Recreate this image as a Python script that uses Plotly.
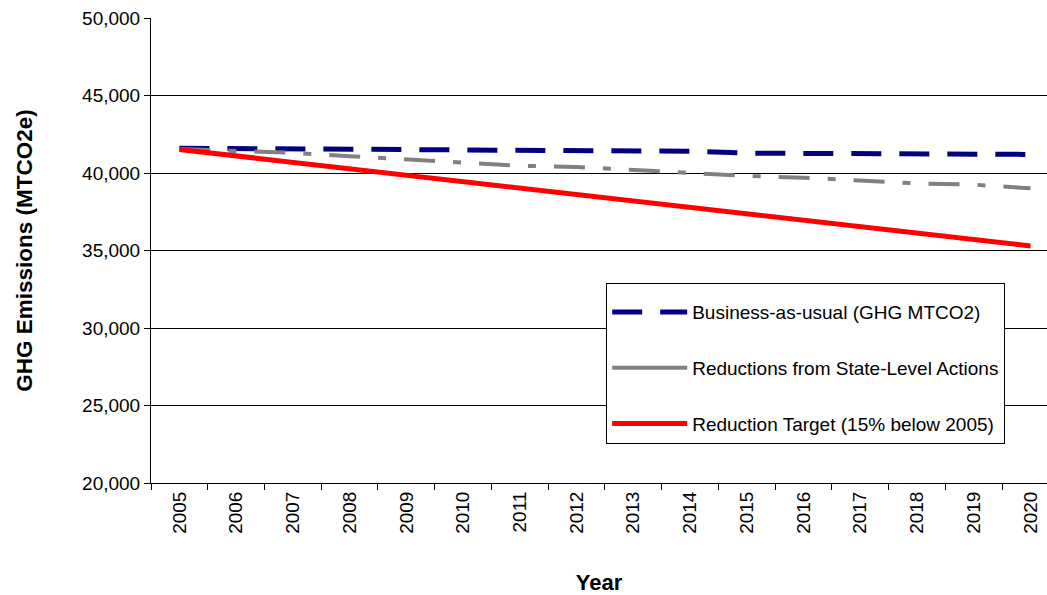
import plotly.graph_objects as go

years = [str(y) for y in range(2005, 2021)]
bau = [41600, 41580, 41550, 41480, 41470, 41470, 41400, 41400, 41400, 41400,
       41280, 41280, 41280, 41260, 41200, 41200]
state = [41550, 41420, 41300, 41080, 40860, 40690, 40470, 40390, 40190, 40040,
         39810, 39700, 39530, 39330, 39250, 39010]
target = [41520, 41105, 40690, 40275, 39860, 39445, 39030, 38615, 38200, 37785,
          37370, 36955, 36540, 36125, 35710, 35295]

names = ["Business-as-usual (GHG MTCO2)",
         "Reductions from State-Level Actions",
         "Reduction Target (15% below 2005)"]

FONT = "Liberation Sans, Arial, sans-serif"
GRAY = "#808080"

fig = go.Figure()
fig.add_trace(go.Scatter(x=years, y=bau, mode="lines", name=names[0], legendgroup="a",
                         line=dict(color="#000080", width=5, dash="30px,18px")))
fig.add_trace(go.Scatter(x=years, y=state, mode="lines", name=names[1], legendgroup="b",
                         showlegend=False,
                         line=dict(color=GRAY, width=4, dash="31px,18px,8px,18px")))
# legend entry for the gray series (drawn solid in the legend, as in the reference)
fig.add_trace(go.Scatter(x=[None], y=[None], mode="lines", name=names[1], legendgroup="b",
                         line=dict(color=GRAY, width=4)))
fig.add_trace(go.Scatter(x=years, y=target, mode="lines", name=names[2], legendgroup="c",
                         line=dict(color="#ff0000", width=5)))

fig.update_layout(
    width=1047, height=595,
    margin=dict(l=151, r=0, t=18, b=112),
    paper_bgcolor="white", plot_bgcolor="white",
    font=dict(family=FONT, size=19, color="black"),
    showlegend=True,
    legend=dict(x=0.508, y=0.43, xanchor="left", yanchor="top",
                bgcolor="white", bordercolor="black", borderwidth=1,
                font=dict(family=FONT, size=19, color="black"),
                title=dict(text=" ", font=dict(size=7)),
                traceorder="grouped", tracegroupgap=28, itemwidth=75),
    xaxis=dict(type="category", range=[-0.5, 15.29], tickangle=-90,
               tickson="boundaries", ticks="outside", ticklen=6, tickcolor="black",
               showline=True, linecolor="black", linewidth=1, showgrid=False,
               tickfont=dict(family=FONT, size=19),
               title=dict(text="<b>Year</b>", font=dict(family=FONT, size=22), standoff=41)),
    yaxis=dict(range=[20000, 50000], dtick=5000, tickformat=",d",
               ticks="outside", ticklen=6, tickcolor="black",
               showline=True, linecolor="black", linewidth=1,
               showgrid=True, gridcolor="black", gridwidth=1, zeroline=False,
               tickfont=dict(family=FONT, size=19),
               title=dict(text="<b>GHG Emissions (MTCO2e)</b>", font=dict(family=FONT, size=22.5), standoff=43)),
)

fig.write_html("out.html", config={"displayModeBar": False},
               post_script="document.body.style.margin='0';")
